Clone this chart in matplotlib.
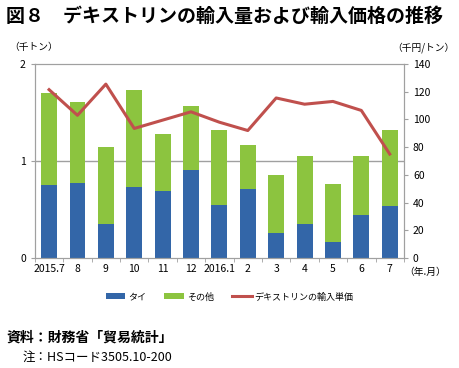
import numpy as np
import matplotlib.pyplot as plt

plt.rcParams['font.family'] = ['Noto Sans CJK JP', 'DejaVu Sans']

months = ['2015.7', '8', '9', '10', '11', '12', '2016.1', '2', '3', '4', '5', '6', '7']
thai = [0.75, 0.77, 0.35, 0.73, 0.69, 0.91, 0.55, 0.71, 0.26, 0.35, 0.165, 0.44, 0.54]
total = [1.70, 1.61, 1.14, 1.73, 1.28, 1.57, 1.32, 1.16, 0.86, 1.05, 0.76, 1.05, 1.32]
other = [t - a for t, a in zip(total, thai)]
price = [121.5, 103, 125.5, 93.5, 99.5, 105.5, 98, 92, 115.5, 111, 113, 106.5, 75]

blue = '#3366a8'
green = '#8cc43f'
red = '#c0504d'
gray = '#a0a0a0'

fig = plt.figure(figsize=(4.59, 3.68), dpi=100)
ax = fig.add_axes([0.076, 0.299, 0.804, 0.527])
x = np.arange(len(months))
b1 = ax.bar(x, thai, width=0.56, color=blue, label='タイ', zorder=2)
b2 = ax.bar(x, other, width=0.56, bottom=thai, color=green, label='その他', zorder=2)
ax.set_xlim(-0.5, len(months) - 0.5)
ax.set_ylim(0, 2)
ax.set_yticks([0, 1, 2])
ax.axhline(1, color=gray, lw=1, zorder=1)
for s in ['left', 'right', 'top', 'bottom']:
    ax.spines[s].set_color(gray)
ax.set_xticks(x)
ax.set_xticklabels(months, fontsize=7.5)
ax.tick_params(axis='x', length=0, pad=4)
ax.set_xticks(np.arange(-0.5, len(months), 1), minor=True)
ax.tick_params(axis='x', which='minor', length=3, color=gray)
ax.tick_params(axis='y', labelsize=7.5, length=3, color=gray)

ax2 = ax.twinx()
l1, = ax2.plot(x, price, color=red, lw=2.2, label='デキストリンの輸入単価', zorder=3)
ax2.set_ylim(0, 140)
ax2.set_yticks(range(0, 141, 20))
ax2.tick_params(axis='y', labelsize=7.5, length=3, color=gray)
for s in ['left', 'right', 'top', 'bottom']:
    ax2.spines[s].set_color(gray)

fig.text(0.012, 0.955, '図８　デキストリンの輸入量および輸入価格の推移', fontsize=13.7,
         fontweight='bold', va='center')
fig.text(0.02, 0.872, '（千トン）', fontsize=7, va='center')
fig.text(0.99, 0.872, '（千円/トン）', fontsize=7, va='center', ha='right')
fig.text(0.88, 0.262, '（年.月）', fontsize=7, va='center')

fig.legend(handles=[b1, b2, l1], loc='center', bbox_to_anchor=(0.5, 0.193), ncol=3,
           frameon=False, fontsize=6.5, handlelength=2.2, handleheight=0.6,
           columnspacing=2.0, handletextpad=0.3)

fig.text(0.015, 0.082, '資料：財務省「貿易統計」', fontsize=10, fontweight='bold', va='center')
fig.text(0.05, 0.03, '注：HSコード3505.10-200', fontsize=9, va='center')

fig.savefig('out.png', dpi=100)
